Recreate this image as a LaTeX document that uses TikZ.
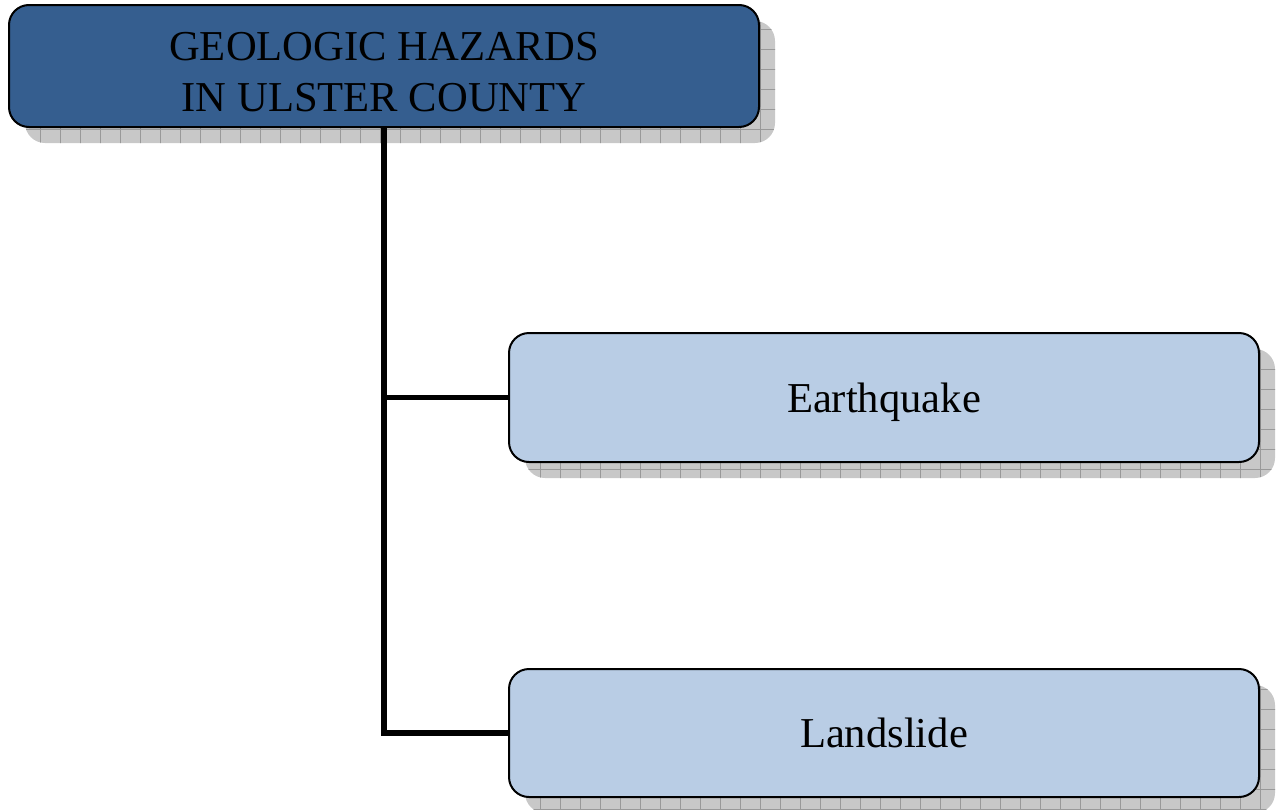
\documentclass[tikz,border=0pt]{standalone}
\usepackage{fontspec}
\setmainfont{Liberation Serif}
\usepackage{tikz}
\usetikzlibrary{positioning, shadows, patterns.meta}
\definecolor{darkblue}{RGB}{53, 94, 143}
\definecolor{lightblue}{RGB}{185, 205, 229}
\definecolor{shadowgray}{RGB}{200, 200, 200}

\tikzset{
	hazardbox/.style={draw=black, line width=2pt, rounded corners=20pt, minimum width=750pt, align=center,
		font=\fontsize{42.6}{51}\selectfont,
		drop shadow={shadow xshift=16pt, shadow yshift=-16pt, opacity=1, fill=shadowgray, draw=none},
		drop shadow={shadow xshift=16pt, shadow yshift=-16pt, opacity=1, draw=none, pattern={Hatch[angle=0, distance=20pt, line width=0.8pt]}, pattern color=black!40}},
	link/.style={line width=5.5pt}
}

\begin{document}
\begin{tikzpicture}[x=1pt, y=-1pt]
		\useasboundingbox (0,0) rectangle (1276,809);
		% boxes:
		\node [hazardbox, fill=darkblue, minimum height=122pt, text height=90pt, text depth=0pt] (geo) at (384,66) {GEOLOGIC HAZARDS\\IN ULSTER COUNTY};
		\node [hazardbox, fill=lightblue, minimum height=129pt, text depth=0pt] (quake) at (884,397.5) {Earthquake};
		\node [hazardbox, fill=lightblue, minimum height=128pt, text depth=0pt] (slide) at (884,733) {Landslide};
		% tree lines
		\draw [link] (geo.south) -- (geo.south |- slide.west) -- (slide.west);
		\draw [link] (geo.south |- quake.west) -- (quake.west);
	\end{tikzpicture}
\end{document}
